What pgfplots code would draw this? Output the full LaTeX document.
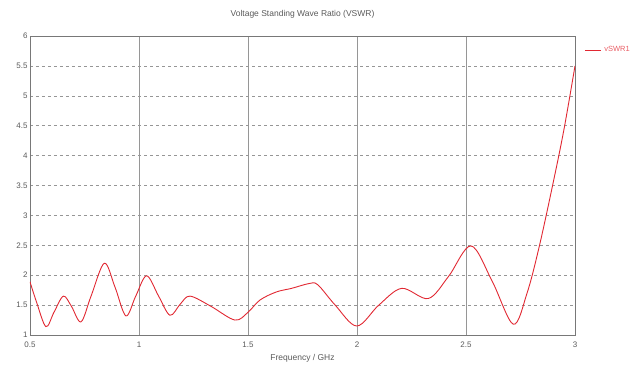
\documentclass[border=0pt]{standalone}
\usepackage{fontspec}
\setmainfont{Liberation Sans}
\usepackage{pgfplots}
\pgfplotsset{compat=1.18}
\definecolor{curve}{RGB}{225,40,50}
\definecolor{txt}{RGB}{90,90,90}
\definecolor{gridc}{RGB}{150,150,150}
\begin{document}
\begin{tikzpicture}
\begin{axis}[
  name=ax,
  scale only axis,
  width=545pt, height=299pt,
  xmin=0.5, xmax=3, ymin=1, ymax=6,
  xtick={0.5,1,1.5,2,2.5,3},
  xticklabels={0.5,1,1.5,2,2.5,3},
  ytick={1,1.5,2,2.5,3,3.5,4,4.5,5,5.5,6},
  yticklabels={1,1.5,2,2.5,3,3.5,4,4.5,5,5.5,6},
  /pgf/number format/assume math mode=true,
  tick label style={font=\fontsize{8}{9}\selectfont, text=txt},
  xticklabel style={yshift=-3pt},
  yticklabel style={xshift=1pt},
  label style={font=\fontsize{8.5}{9}\selectfont, text=txt},
  title style={font=\fontsize{8.5}{9}\selectfont, text=txt, yshift=8pt},
  title={Voltage Standing Wave Ratio (VSWR)},
  xlabel={Frequency / GHz},
  xlabel style={yshift=0pt},
  axis line style={gridc!80!black, line width=0.8pt},
  tick style={draw=none},
  xmajorgrids, ymajorgrids,
  x grid style={gridc, line width=0.6pt},
  y grid style={gridc, dashed, line width=0.6pt},
  legend style={at={(1.015,0.975)}, anchor=north west, draw=none, fill=none,
    font=\fontsize{7.5}{8}\selectfont, text=curve!75, inner sep=1pt,
    nodes={inner xsep=3pt}},
  legend cell align=left,
  legend image code/.code={\draw[curve, line width=1pt] (0pt,0pt) -- (16pt,0pt);},
]
\addplot[curve, line width=0.9pt, smooth, tension=0.55] coordinates {
(0.5,1.89) (0.53,1.55) (0.573,1.14) (0.61,1.38) (0.653,1.65) (0.69,1.48)
(0.734,1.22) (0.78,1.65) (0.841,2.20) (0.89,1.80) (0.94,1.32) (0.985,1.65)
(1.035,1.99) (1.09,1.65) (1.142,1.33) (1.19,1.52) (1.234,1.65) (1.33,1.48)
(1.44,1.25) (1.50,1.38) (1.555,1.585) (1.63,1.72) (1.70,1.78) (1.78,1.86)
(1.82,1.84) (1.90,1.50) (1.999,1.15) (2.10,1.50) (2.205,1.78) (2.327,1.61)
(2.42,1.98) (2.523,2.49) (2.62,1.90) (2.717,1.18) (2.78,1.70) (2.836,2.48)
(2.90,3.55) (2.95,4.45) (3.0,5.5)
};
\addlegendentry{vSWR1}
\end{axis}
\pgfresetboundingbox
\path[use as bounding box] ([xshift=-30pt,yshift=-37pt]ax.south west) rectangle ([xshift=62pt,yshift=36pt]ax.north east);
\end{tikzpicture}
\end{document}
